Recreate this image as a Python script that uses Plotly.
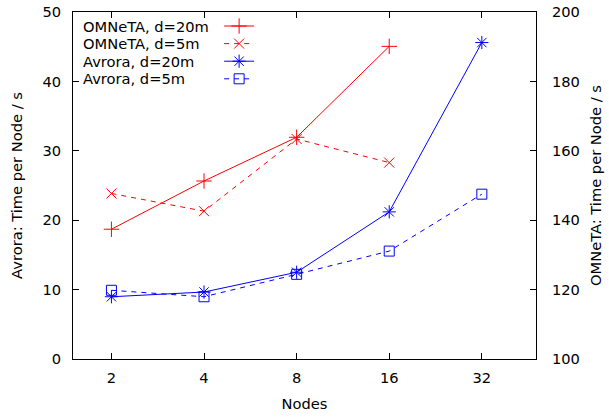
import plotly.graph_objects as go

nodes = [2, 4, 8, 16, 32]
node_ticks = ["2", "4", "8", "16", "32"]

omneta_nodes = [2, 4, 8, 16]
omneta_d20 = [137.4, 151.3, 163.9, 190.1]
omneta_d5 = [147.7, 142.6, 163.4, 156.6]

avrora_d20 = [8.97, 9.65, 12.5, 21.2, 45.6]
avrora_d5 = [9.9, 8.97, 12.2, 15.55, 23.75]

legend_labels = ["OMNeTA, d=20m", "OMNeTA, d=5m", "Avrora, d=20m", "Avrora, d=5m"]

FONT = "DejaVu Sans"
FS = 14.67
RED = "#ff0000"
BLUE = "#0000ff"

PL, PR, PT, PB = 72.7, 536.3, 12, 359
PW, PH = PR - PL, PB - PT

def px_x(x):
    return (x - PL) / PW

def px_y(y):
    return (PB - y) / PH

legend_names = ["legend", "legend2", "legend3", "legend4"]

fig = go.Figure()
fig.add_trace(go.Scatter(
    x=omneta_nodes, y=omneta_d20, yaxis="y2", mode="lines+markers", name="",
    legend=legend_names[0],
    line=dict(color=RED, width=1),
    marker=dict(symbol="cross-thin-open", size=11, color=RED, line=dict(color=RED, width=1))))
fig.add_trace(go.Scatter(
    x=omneta_nodes, y=omneta_d5, yaxis="y2", mode="lines+markers", name="",
    legend=legend_names[1],
    line=dict(color=RED, width=1, dash="5px,5px"),
    marker=dict(symbol="x-thin-open", size=10, color=RED, line=dict(color=RED, width=1))))
fig.add_trace(go.Scatter(
    x=nodes, y=avrora_d20, mode="lines+markers", name="",
    legend=legend_names[2],
    line=dict(color=BLUE, width=1),
    marker=dict(symbol="asterisk-open", size=11, color=BLUE, line=dict(color=BLUE, width=1))))
fig.add_trace(go.Scatter(
    x=nodes, y=avrora_d5, mode="lines+markers", name="",
    legend=legend_names[3],
    line=dict(color=BLUE, width=1, dash="5px,5px"),
    marker=dict(symbol="square-open", size=10, color=BLUE, line=dict(color=BLUE, width=1))))

row_y = [26, 43.6, 61.2, 78.8]
annotations = []
for lab, yc in zip(legend_labels, row_y):
    annotations.append(dict(
        text=lab, xref="paper", yref="paper", x=px_x(81),
        y=px_y(yc), xanchor="left", yanchor="middle",
        showarrow=False, font=dict(family=FONT, size=FS, color="black")))

legends = {}
for name, yc in zip(legend_names, row_y):
    legends[name] = dict(x=px_x(219), y=px_y(yc), xanchor="left", yanchor="middle",
                         bgcolor="rgba(0,0,0,0)", font=dict(size=8), borderwidth=0)

TITLE_FONT = dict(family=FONT, size=FS, color="black")

fig.update_layout(
    width=609, height=418,
    margin=dict(l=73, r=73, t=12, b=59, autoexpand=False),
    paper_bgcolor="white", plot_bgcolor="white",
    font=dict(family=FONT, size=FS, color="black"),
    showlegend=True,
    annotations=annotations,
    xaxis=dict(type="log", range=[0.17609, 1.68124], tickvals=nodes, ticktext=node_ticks,
               ticks="inside", ticklen=6, tickcolor="black", showline=True, linecolor="black",
               linewidth=1, mirror="ticks", showgrid=False, zeroline=False,
               title=dict(text="Nodes", standoff=14, font=TITLE_FONT), ticklabelstandoff=5),
    yaxis=dict(range=[0, 50], dtick=10, ticks="inside", ticklen=6, tickcolor="black",
               showline=True, linecolor="black", linewidth=1, mirror=False,
               showgrid=False, zeroline=False, ticklabelstandoff=8,
               title=dict(text="Avrora: Time per Node / s", standoff=16, font=TITLE_FONT)),
    yaxis2=dict(range=[100, 200], dtick=20, ticks="inside", ticklen=6, tickcolor="black",
                showline=True, linecolor="black", linewidth=1, overlaying="y", side="right",
                showgrid=False, zeroline=False, ticklabelstandoff=12,
                title=dict(text="OMNeTA: Time per Node / s", standoff=11, font=TITLE_FONT)),
    **legends,
)

fig.write_html("out.html", config={"displayModeBar": False},
               post_script="document.body.style.margin='0px';")
